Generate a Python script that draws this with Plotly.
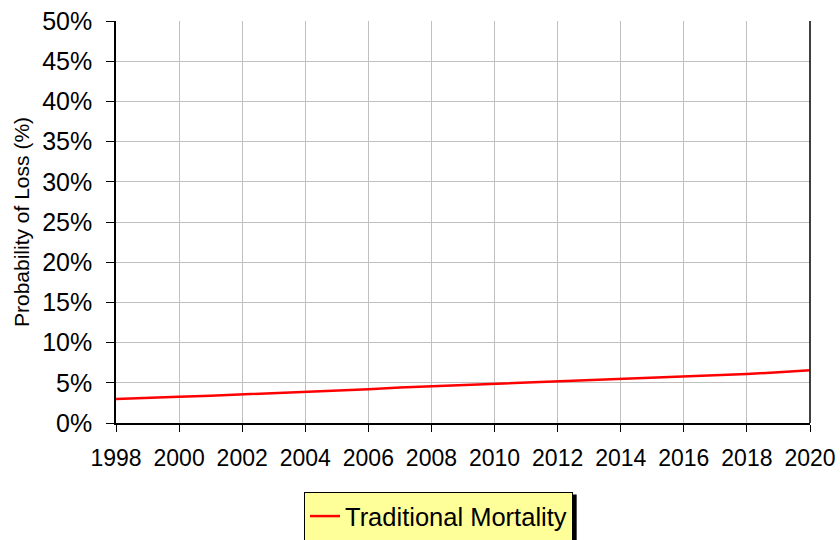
import plotly.graph_objects as go

years = list(range(1998, 2021))
traditional_mortality = [3.0, 3.1, 3.25, 3.4, 3.55, 3.7, 3.9, 4.05, 4.2, 4.4, 4.55, 4.7,
                         4.83, 5.0, 5.15, 5.3, 5.45, 5.6, 5.78, 5.95, 6.1, 6.3, 6.55]
y_ticks = list(range(0, 51, 5))
y_tick_labels = [f"{v}%" for v in y_ticks]
x_ticks = list(range(1998, 2021, 2))

fig = go.Figure()
fig.add_trace(go.Scatter(x=years, y=traditional_mortality, mode="lines",
                         name="Traditional Mortality",
                         line=dict(color="#ff0000", width=2.5)))

font = "Liberation Sans, Arial, sans-serif"

# plot area in pixels (for placing the legend shadow in paper units)
PL, PR, PT, PB = 115.5, 810.0, 20.5, 423.3
def px_x(p):
    return (p - PL) / (PR - PL)
def px_y(p):
    return (PB - p) / (PB - PT)

fig.update_layout(
    width=840, height=540,
    margin=dict(l=PL, r=840 - PR, t=PT, b=540 - PB, autoexpand=False),
    paper_bgcolor="white", plot_bgcolor="white",
    font=dict(family=font, color="black"),
    showlegend=True,
    legend=dict(xref="container", yref="container", x=438.5 / 840, y=1 - 492 / 540,
                xanchor="center", yanchor="top",
                bgcolor="#ffff99", bordercolor="black", borderwidth=1,
                font=dict(size=25.5, family=font), orientation="h"),
    xaxis=dict(range=[1998, 2020], tickvals=x_ticks, showgrid=True,
               gridcolor="#c0c0c0", gridwidth=1, showline=True, linecolor="black",
               linewidth=1.5, ticks="outside", ticklen=7, tickcolor="black",
               tickfont=dict(size=23), zeroline=False, automargin=False,
               ticklabelstandoff=7, ticklabeloverflow="allow"),
    yaxis=dict(range=[0, 50], tickvals=y_ticks, ticktext=y_tick_labels,
               showgrid=True, gridcolor="#c0c0c0", gridwidth=1, showline=True,
               linecolor="black", linewidth=1.5, ticks="outside", ticklen=8,
               tickcolor="black", tickfont=dict(size=25), zeroline=False,
               automargin=False, ticklabelstandoff=9, ticklabeloverflow="allow",
               title=dict(text="Probability of Loss (%)", font=dict(size=21), standoff=7)),
    shapes=[
        dict(type="line", xref="paper", yref="paper", x0=1, x1=1, y0=0, y1=1,
             line=dict(color="black", width=1.5)),
        # legend drop shadow
        dict(type="rect", xref="paper", yref="paper", layer="above",
             x0=px_x(308), x1=px_x(576.5), y0=px_y(495), y1=px_y(548),
             fillcolor="black", line=dict(width=0)),
    ],
)
fig.write_html("out.html", config={"displayModeBar": False},
               post_script="document.body.style.margin='0px';document.body.style.overflow='hidden';")
